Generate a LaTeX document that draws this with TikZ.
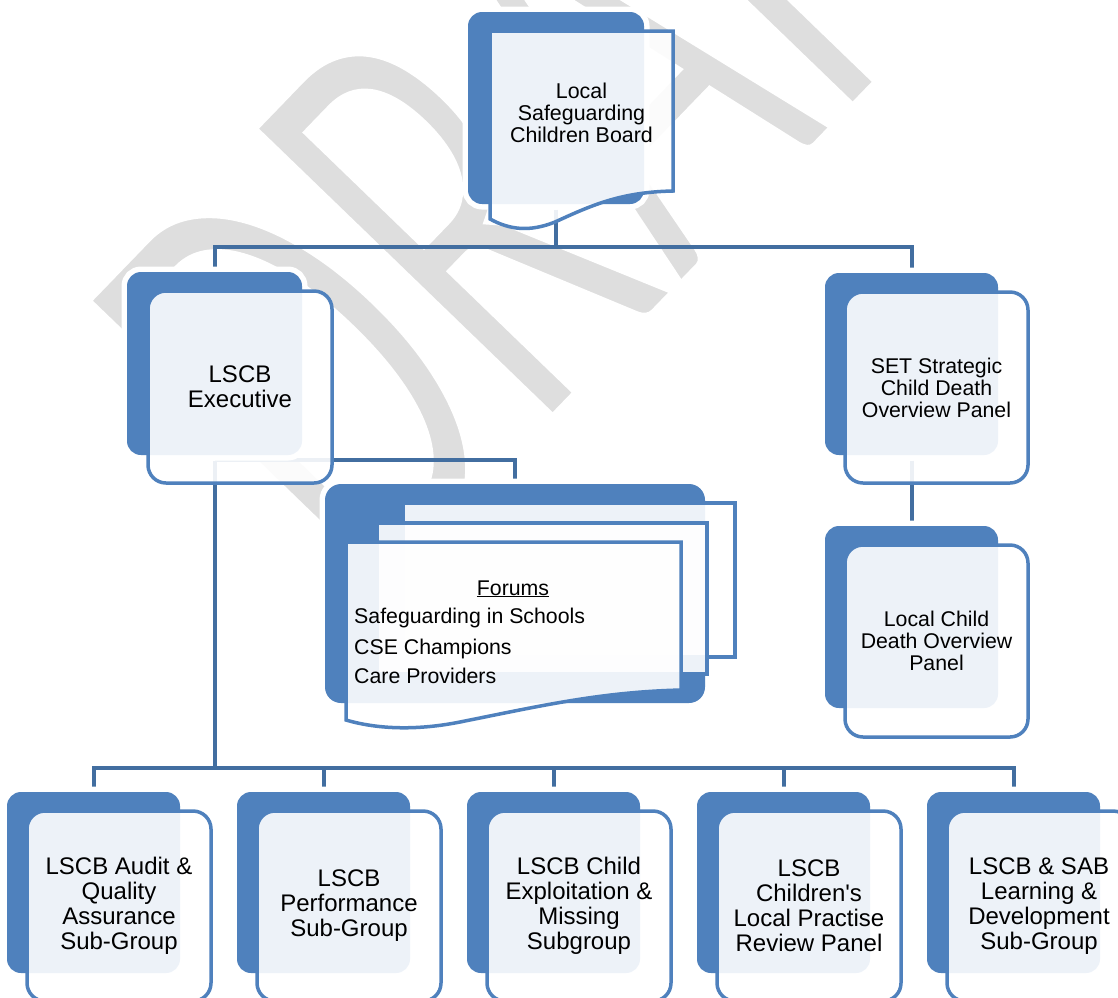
\documentclass[tikz,border=0pt]{standalone}
\usepackage{fontspec}
\newfontfamily\lsans{Liberation Sans}
\newfontfamily\wmfont{Carlito}
\definecolor{boxblue}{RGB}{79,129,189}
\definecolor{connblue}{RGB}{66,110,160}
\definecolor{wmgray}{RGB}{222,222,222}
\pgfdeclarelayer{wmlayer}
\pgfdeclarelayer{bglayer}
\pgfsetlayers{wmlayer,bglayer,main}
\tikzset{
  backbox/.style 2 args={rectangle, rounded corners=14pt, fill=boxblue,
    preaction={draw=white, line width=11pt},
    minimum width=#1, minimum height=#2, inner sep=0pt, outer sep=5.5pt},
  frontbox/.style 2 args={rectangle, rounded corners=18pt, draw=boxblue,
    line width=3.5pt, fill=white, fill opacity=0.9, text opacity=1,
    minimum width=#1, minimum height=#2, inner sep=0pt, align=center, text=black},
  pagesheet/.style={draw=boxblue, line width=3.5pt, fill=white, fill opacity=0.9, line join=miter},
  conn/.style={draw=connblue, line width=4pt, line join=miter},
  txt/.style={inner sep=0pt, align=center, text=black},
  fsmall/.style={font=\lsans\fontsize{21.3}{22}\selectfont},
  fbig/.style={font=\lsans\fontsize{24}{25}\selectfont},
  wmtext/.style={text=wmgray, font=\wmfont\fontsize{655}{655}\selectfont, inner sep=0pt}
}
\begin{document}
\begin{tikzpicture}[x=1pt,y=-1pt]
\useasboundingbox (0,0) rectangle (1118,997);
\clip (0,0) rectangle (1118,997);

% watermark
\begin{pgfonlayer}{wmlayer}
\clip (0,0) rectangle (1118,997);
\node[wmtext, rotate=46, anchor=base west] (draftmark) at (370,610)
  {\scalebox{0.59}[1]{\special{pdf:code q 2 Tr 1 G 12 w}DRAFT\special{pdf:code Q}}};
\end{pgfonlayer}

% back boxes
\node[backbox={176}{192}] (boardB) at (556,108) {};
\node[backbox={175}{183}] (execB) at (214.5,363.5) {};
\node[backbox={173}{182}] (setB) at (911.5,364) {};
\node[backbox={173}{182}] (locB) at (911.5,617) {};
\node[backbox={380}{219}, rounded corners=16pt] (forumB) at (515,593.5) {};
\foreach \i in {1,...,5}{
  \node[backbox={173}{181}] (sub\i B) at ({93.5+230*(\i-1)},882.5) {};
}

% connectors
\coordinate (topbus) at (556,247);
\coordinate (forumbus) at (214.5,460);
\coordinate (botbus) at (214.5,768);
\begin{pgfonlayer}{bglayer}
\draw[conn] (boardB.south) -- (topbus);
\draw[conn] (execB.north) |- (topbus) -| (setB.north);
\draw[conn] (setB.south) -- (locB.north);
\draw[conn] (execB.south) -- (botbus);
\draw[conn] (forumbus) -| (forumB.north);
\draw[conn] (sub1B.north) |- (botbus) -| (sub5B.north);
\draw[conn] (sub2B.north) -- (sub2B.north |- botbus);
\draw[conn] (sub3B.north) -- (sub3B.north |- botbus);
\draw[conn] (sub4B.north) -- (sub4B.north |- botbus);
\end{pgfonlayer}

% board document shape
\path[pagesheet] (490,31) -- (673,31) -- (673,191)
  .. controls (620,192) and (590,206) .. (555,222)
  .. controls (530,232) and (510,230) .. (490,219) -- cycle;
\node[txt, font=\lsans\fontsize{21.4}{22}\selectfont] (boardT) at (581.5,113) {Local\\Safeguarding\\Children Board};

% front boxes
\node[frontbox={184}{192}, fbig] (execF) at (240,387) {LSCB\\Executive};
\node[frontbox={183}{191}, fsmall] (setF) at (936.5,387.5) {SET Strategic\\Child Death\\Overview Panel};
\node[frontbox={183}{192}, fsmall] (locF) at (936.5,641) {Local Child\\Death Overview\\Panel};

% forums pages
\path[pagesheet] (403,503) rectangle (735,657);
\path[pagesheet] (377,523) rectangle (707,674);
\path[pagesheet] (346,542) -- (681,542) -- (681,690)
  .. controls (600,692) and (540,706) .. (460,722)
  .. controls (420,730) and (380,730) .. (346,720) -- cycle;
\node[txt, fsmall, anchor=base] (forumT) at (513,595) {\underline{Forums}};
\node[txt, fsmall, anchor=base west] (forum1) at (354,623) {Safeguarding in Schools};
\node[txt, fsmall, anchor=base west] (forum2) at (354,654) {CSE Champions};
\node[txt, fsmall, anchor=base west] (forum3) at (354,683) {Care Providers};

% sub-group boxes
\node[frontbox={184}{190}, fbig] (sub1F) at (119,906) {LSCB Audit \&\\Quality\\Assurance\\Sub-Group};
\node[frontbox={184}{190}, fbig] (sub2F) at (349,906) {LSCB\\Performance\\Sub-Group};
\node[frontbox={184}{190}, fbig] (sub3F) at (579,906) {LSCB Child\\Exploitation \&\\Missing\\Subgroup};
\node[frontbox={184}{190}, fbig] (sub4F) at (809,906) {LSCB\\Children's\\Local Practise\\Review Panel};
\node[frontbox={184}{190}, fbig] (sub5F) at (1039,906) {LSCB \& SAB\\Learning \&\\Development\\Sub-Group};
\end{tikzpicture}
\end{document}
